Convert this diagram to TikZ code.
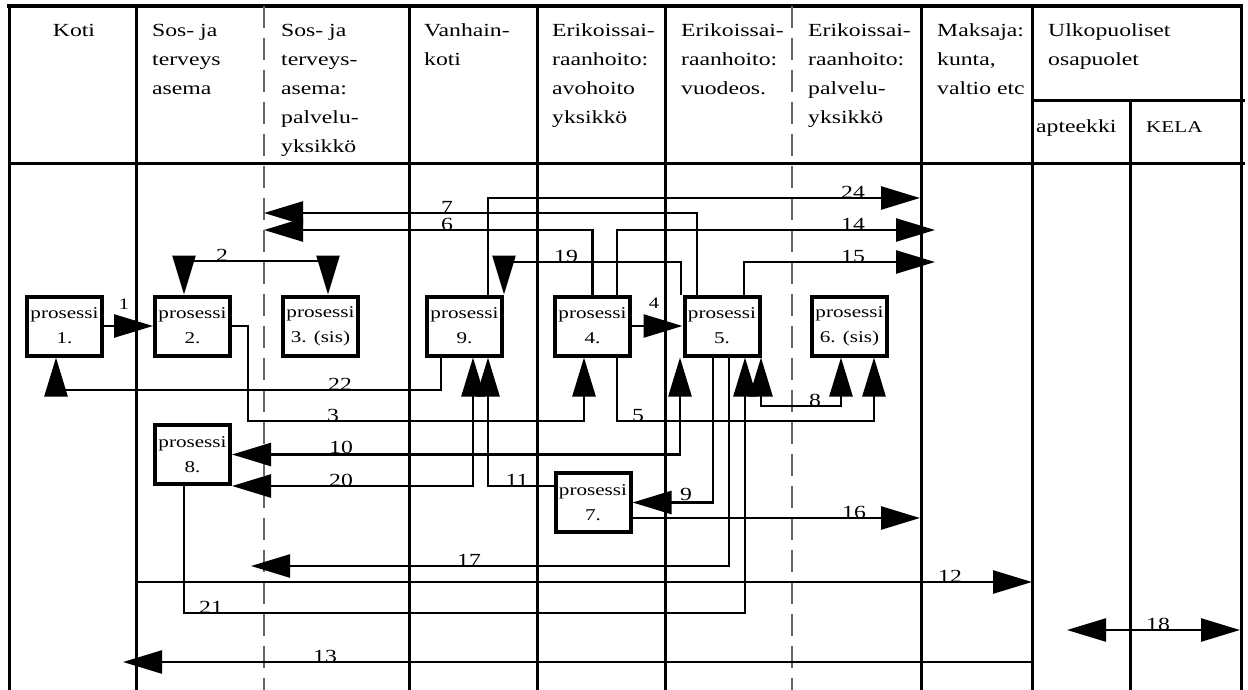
\documentclass[tikz,border=0pt]{standalone}
\usepackage{fontspec}
\setmainfont{Liberation Serif}[FakeStretch=1.28]
\usetikzlibrary{arrows.meta}

\begin{document}
\begin{tikzpicture}[x=1pt, y=-1pt,
  proc/.style={draw, line width=4pt, fill=white, minimum width=75pt, minimum height=59pt, inner sep=0pt, align=center, font=\fontsize{16.5}{25}\selectfont},
  head/.style={anchor=base west, inner sep=0pt, align=left, font=\fontsize{18.5}{29}\selectfont},
  lbl/.style={anchor=base, inner sep=0pt, font=\fontsize{18.5}{18.5}\selectfont},
  small/.style={font=\fontsize{16}{16}\selectfont},
  col/.style={line width=3pt},
  dsh/.style={line width=1.6pt, gray!80!black, dash pattern=on 22pt off 10pt},
  arr/.style={line width=2.5pt, -{Triangle[length=39pt, width=23pt]}},
  dbl/.style={line width=2.5pt, {Triangle[length=39pt, width=23pt]}-{Triangle[length=39pt, width=23pt]}}
]
\useasboundingbox (0,0) rectangle (1248,690);

% frame and swimlanes
\draw[line width=4pt] (7,6) -- (1243,6);
\foreach \x in {9,136,409,537,665,921,1032,1241}
  \draw[col] (\x,6) -- (\x,690);
\draw[col] (1130,101) -- (1130,690);
\foreach \x in {264,792}
  \draw[dsh] (\x,6) -- (\x,690);
\draw[col] (7.5,164) -- (1245,164);
\draw[col] (1032,101) -- (1245,101);

% headings (base = last line)
\node[head, anchor=base] (hkoti) at (74,37) {Koti};
\node[head] (hsos) at (152,95) {Sos- ja\\terveys\\asema};
\node[head] (hsosp) at (281,153) {Sos- ja\\terveys-\\asema:\\palvelu-\\yksikkö};
\node[head] (hvan) at (424,66) {Vanhain-\\koti};
\node[head] (hav) at (552,124) {Erikoissai-\\raanhoito:\\avohoito\\yksikkö};
\node[head] (hvuo) at (681,95) {Erikoissai-\\raanhoito:\\vuodeos.};
\node[head] (hpal) at (808,124) {Erikoissai-\\raanhoito:\\palvelu-\\yksikkö};
\node[head] (hmak) at (937,95) {Maksaja:\\kunta,\\valtio etc};
\node[head] (hulk) at (1048,66) {Ulkopuoliset\\osapuolet};
\node[head] (hapt) at (1036,133) {apteekki};
\node[head, font=\fontsize{16.5}{16.5}\selectfont] (hkela) at (1146,133) {KELA};

% processes
\node[proc] (p1) at (64.5,326) {prosessi\\1.};
\node[proc] (p2) at (192.5,326) {prosessi\\2.};
\node[proc] (p3) at (320.5,326) {prosessi\\3. (sis)};
\node[proc] (p9) at (464.5,326) {prosessi\\9.};
\node[proc] (p4) at (592.5,326) {prosessi\\4.};
\node[proc] (p5) at (722,326) {prosessi\\5.};
\node[proc] (p6) at (849.5,326) {prosessi\\6. (sis)};
\node[proc] (p8) at (192.5,454.5) {prosessi\\8.};
\node[proc] (p7) at (593,502.5) {prosessi\\7.};

% free ends
\coordinate (c7) at (264,213);
\coordinate (c6) at (264,230);
\coordinate (c24) at (920,198);
\coordinate (c14) at (935,230);
\coordinate (c15) at (935,262);
\coordinate (c16) at (920,518);
\coordinate (c17) at (251,566);
\coordinate (c12a) at (136,582);
\coordinate (c12b) at (1032,582);
\coordinate (c13a) at (1032,662);
\coordinate (c13b) at (123,662);
\coordinate (c18a) at (1067,630);
\coordinate (c18b) at (1240,630);

% flows
\draw[arr] (p1) -- (p2);
\draw[dbl] (p2.north -| 184,0) -- (184,261) -| (p3.north -| 328,0);
\draw[arr] (p9.north -| 488,0) |- (c24);
\draw[arr] (p5.north -| 697,0) |- (c7);
\draw[arr] (p4.north) |- (c6);
\draw[arr] (p4.north -| 617,0) |- (c14);
\draw[arr] (p5.north -| 744,0) |- (c15);
\draw[arr] (p5.north -| 681,0) -- (681,262) -| (p9.north -| 504,0);
\draw[arr] (p4) -- (p5);
\draw[arr] (p9.south -| 441,0) -- (441,390) -| (p1.south -| 56,0);
\draw[arr] (p2.east) -| (248,421) -| (p4.south -| 584,0);
\draw[arr] (p4.south -| 617,0) -- (617,421) -| (p6.south -| 874,0);
\draw[dbl] (p5.south -| 761,0) -- (761,406) -| (p6.south -| 841,0);
\draw[dbl] (p5.south -| 680,0) |- (p8.east);
\draw[dbl] (p9.south -| 473,0) |- (p8.south east);
\draw[arr] (p7.west |- 0,486) -| (p9.south -| 488,0);
\draw[arr] (p5.south -| 713,0) |- (p7.east);
\draw[arr] (p7.east |- 0,518) -- (c16);
\draw[arr] (p5.south -| 729,0) |- (c17);
\draw[arr] (p8.south -| 184,0) -- (184,613) -| (p5.south -| 745,0);
\draw[arr] (c12a) -- (c12b);
\draw[arr] (c13a) -- (c13b);
\draw[dbl] (c18a) -- (c18b);

% numbers
\node[lbl, small] (l1) at (124,309) {1};
\node[lbl] (l2) at (222,261) {2};
\node[lbl] (l7) at (447,213) {7};
\node[lbl] (l6) at (447,230) {6};
\node[lbl] (l24) at (853,198) {24};
\node[lbl] (l14) at (853,230) {14};
\node[lbl] (l15) at (853,262) {15};
\node[lbl] (l19) at (566,262) {19};
\node[lbl, small] (l4) at (654,308) {4};
\node[lbl] (l22) at (340,390) {22};
\node[lbl] (l3) at (333,421) {3};
\node[lbl] (l5) at (638,421) {5};
\node[lbl] (l8) at (815,406) {8};
\node[lbl] (l10) at (341,453) {10};
\node[lbl] (l20) at (341,486) {20};
\node[lbl] (l11) at (517,486) {11};
\node[lbl] (l9) at (686,500) {9};
\node[lbl] (l17) at (469,566) {17};
\node[lbl] (l16) at (854,518) {16};
\node[lbl] (l12) at (950,582) {12};
\node[lbl] (l21) at (211,613) {21};
\node[lbl] (l13) at (325,662) {13};
\node[lbl] (l18) at (1158,630) {18};
\end{tikzpicture}
\end{document}
